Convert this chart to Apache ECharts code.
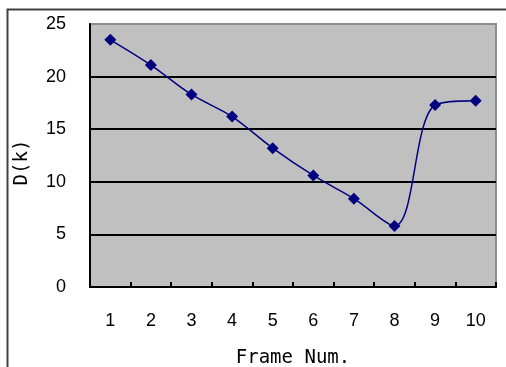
<!DOCTYPE html>
<html><head><meta charset="utf-8">
<script src="https://cdn.jsdelivr.net/npm/echarts@6/dist/echarts.min.js"></script>
<style>html,body{margin:0;padding:0;background:#fff}#c{width:506px;height:367px}</style>
</head><body><div id="c"></div>
<script>
var categories = ['1','2','3','4','5','6','7','8','9','10'];
var dValues = [23.5, 21.1, 18.3, 16.2, 13.2, 10.6, 8.4, 5.8, 17.3, 17.7];
var yTicks = [0, 5, 10, 15, 20, 25];

var chart = echarts.init(document.getElementById('c'), null, {renderer: 'canvas'});
chart.setOption({
  animation: false,
  backgroundColor: '#ffffff',
  graphic: [{
    type: 'rect', left: 5, top: 7, shape: {x: 0, y: 0, width: 520, height: 400},
    style: {fill: 'none', stroke: '#404040', lineWidth: 2}, z: -10
  }],
  grid: {left: 90, right: 10, top: 24, bottom: 80, show: true,
         outerBoundsMode: 'none', containLabel: false,
         backgroundColor: '#c0c0c0', borderColor: '#8c8c8c', borderWidth: 2},
  xAxis: {
    type: 'category', data: categories, boundaryGap: true,
    name: 'Frame Num.', nameLocation: 'middle', nameGap: 62,
    nameTextStyle: {fontFamily: 'DejaVu Sans Mono', fontSize: 19, color: '#000'},
    axisLine: {lineStyle: {color: '#000', width: 2}},
    axisTick: {show: true, inside: true, length: 5, lineStyle: {color: '#000', width: 2}},
    axisLabel: {margin: 25, fontFamily: 'Liberation Sans', fontSize: 18, color: '#000'},
    splitLine: {show: false}
  },
  yAxis: {
    type: 'value', min: yTicks[0], max: yTicks[yTicks.length - 1], interval: 5,
    name: 'D(k)', nameLocation: 'middle', nameGap: 58,
    nameTextStyle: {fontFamily: 'DejaVu Sans Mono', fontSize: 19, color: '#000', padding: [0, 14, 0, 0]},
    axisLine: {show: true, lineStyle: {color: '#000', width: 2}},
    axisTick: {show: false},
    axisLabel: {margin: 24, fontFamily: 'Liberation Sans', fontSize: 18, color: '#000'},
    splitLine: {show: true, showMaxLine: false, showMinLine: false, lineStyle: {color: '#000', width: 2}}
  },
  series: [{
    type: 'line', data: dValues, smooth: 0.35,
    symbol: 'diamond', symbolSize: 12,
    lineStyle: {color: '#000080', width: 1.5},
    itemStyle: {color: '#000080'}
  }]
});
</script></body></html>
